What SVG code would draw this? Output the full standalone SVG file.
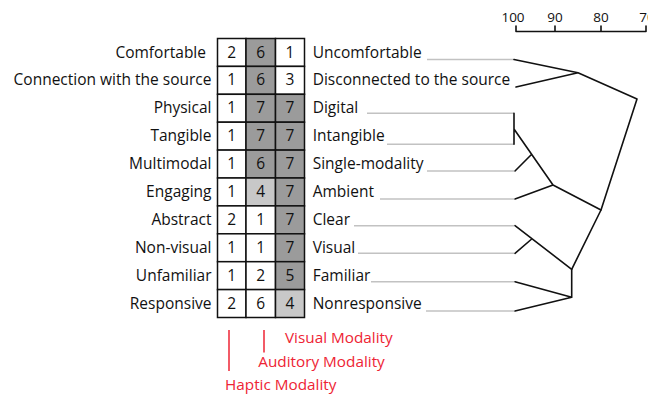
<svg xmlns="http://www.w3.org/2000/svg" width="661" height="398" viewBox="0 0 661 398">
  <style>
    text { font-family: "Open Sans", "Noto Sans", "Liberation Sans", sans-serif; font-size: 15.5px; fill: #111; }
    .l { text-anchor: end; }
    .n { text-anchor: middle; }
    .cell { stroke: #111; stroke-width: 1.5; fill: #fff; }
    .d { fill: #9b9b9b; }
    .m { fill: #c8c8c8; }
    .lead { stroke: #c2c2c2; stroke-width: 1.5; fill: none; }
    .br { stroke: #111; stroke-width: 1.6; fill: none; stroke-linecap: round; stroke-linejoin: round; }
    .sc { font-size: 13.5px; text-anchor: middle; }
    .red { fill: #ee2434; font-size: 15.3px; }
    .redl { stroke: #ee2434; stroke-width: 1.5; }
  </style>
  <defs>
    <clipPath id="frame"><rect x="0" y="0" width="648" height="398"/></clipPath>
  </defs>

  <rect width="661" height="398" fill="#fff"/>

  <!-- similarity scale -->
  <g id="scale">
    <path class="br" d="M516 26 V31.5 H646 V26 M555 31.5 V26 M601 31.5 V26" stroke-linecap="butt"/>
    <text class="sc" x="513" y="22">100</text>
    <text class="sc" x="555" y="22">90</text>
    <text class="sc" x="601" y="22">80</text>
    <text class="sc" x="647" y="22" clip-path="url(#frame)">70</text>
  </g>

  <!-- rating rows: pole label, three modality scores, opposite pole -->
  <g id="row1">
    <text class="l" x="206" y="57.5">Comfortable</text>
    <rect class="cell" x="217.5" y="38.5" width="28.5" height="27.9"/>
    <rect class="cell d" x="246" y="38.5" width="29.5" height="27.9"/>
    <rect class="cell" x="275.5" y="38.5" width="29" height="27.9"/>
    <text class="n" x="231.8" y="57.5">2</text><text class="n" x="260.8" y="57.5">6</text><text class="n" x="290" y="57.5">1</text>
    <text x="312.7" y="57.5">Uncomfortable</text>
  </g>
  <g id="row2">
    <text class="l" x="211.5" y="85.4">Connection with the source</text>
    <rect class="cell" x="217.5" y="66.4" width="28.5" height="27.9"/>
    <rect class="cell d" x="246" y="66.4" width="29.5" height="27.9"/>
    <rect class="cell" x="275.5" y="66.4" width="29" height="27.9"/>
    <text class="n" x="231.8" y="85.4">1</text><text class="n" x="260.8" y="85.4">6</text><text class="n" x="290" y="85.4">3</text>
    <text x="312.7" y="85.4">Disconnected to the source</text>
  </g>
  <g id="row3">
    <text class="l" x="211.5" y="113.3">Physical</text>
    <rect class="cell" x="217.5" y="94.3" width="28.5" height="27.9"/>
    <rect class="cell d" x="246" y="94.3" width="29.5" height="27.9"/>
    <rect class="cell d" x="275.5" y="94.3" width="29" height="27.9"/>
    <text class="n" x="231.8" y="113.3">1</text><text class="n" x="260.8" y="113.3">7</text><text class="n" x="290" y="113.3">7</text>
    <text x="312.7" y="113.3">Digital</text>
  </g>
  <g id="row4">
    <text class="l" x="211.5" y="141.2">Tangible</text>
    <rect class="cell" x="217.5" y="122.2" width="28.5" height="27.9"/>
    <rect class="cell d" x="246" y="122.2" width="29.5" height="27.9"/>
    <rect class="cell d" x="275.5" y="122.2" width="29" height="27.9"/>
    <text class="n" x="231.8" y="141.2">1</text><text class="n" x="260.8" y="141.2">7</text><text class="n" x="290" y="141.2">7</text>
    <text x="312.7" y="141.2">Intangible</text>
  </g>
  <g id="row5">
    <text class="l" x="211.5" y="169.1">Multimodal</text>
    <rect class="cell" x="217.5" y="150.1" width="28.5" height="27.9"/>
    <rect class="cell d" x="246" y="150.1" width="29.5" height="27.9"/>
    <rect class="cell d" x="275.5" y="150.1" width="29" height="27.9"/>
    <text class="n" x="231.8" y="169.1">1</text><text class="n" x="260.8" y="169.1">6</text><text class="n" x="290" y="169.1">7</text>
    <text x="312.7" y="169.1">Single-modality</text>
  </g>
  <g id="row6">
    <text class="l" x="211.5" y="197">Engaging</text>
    <rect class="cell" x="217.5" y="178" width="28.5" height="27.9"/>
    <rect class="cell m" x="246" y="178" width="29.5" height="27.9"/>
    <rect class="cell d" x="275.5" y="178" width="29" height="27.9"/>
    <text class="n" x="231.8" y="197">1</text><text class="n" x="260.8" y="197">4</text><text class="n" x="290" y="197">7</text>
    <text x="312.7" y="197">Ambient</text>
  </g>
  <g id="row7">
    <text class="l" x="211.5" y="224.9">Abstract</text>
    <rect class="cell" x="217.5" y="205.9" width="28.5" height="27.9"/>
    <rect class="cell" x="246" y="205.9" width="29.5" height="27.9"/>
    <rect class="cell d" x="275.5" y="205.9" width="29" height="27.9"/>
    <text class="n" x="231.8" y="224.9">2</text><text class="n" x="260.8" y="224.9">1</text><text class="n" x="290" y="224.9">7</text>
    <text x="312.7" y="224.9">Clear</text>
  </g>
  <g id="row8">
    <text class="l" x="211.5" y="252.8">Non-visual</text>
    <rect class="cell" x="217.5" y="233.8" width="28.5" height="27.9"/>
    <rect class="cell" x="246" y="233.8" width="29.5" height="27.9"/>
    <rect class="cell d" x="275.5" y="233.8" width="29" height="27.9"/>
    <text class="n" x="231.8" y="252.8">1</text><text class="n" x="260.8" y="252.8">1</text><text class="n" x="290" y="252.8">7</text>
    <text x="312.7" y="252.8">Visual</text>
  </g>
  <g id="row9">
    <text class="l" x="211.5" y="280.7">Unfamiliar</text>
    <rect class="cell" x="217.5" y="261.7" width="28.5" height="27.9"/>
    <rect class="cell" x="246" y="261.7" width="29.5" height="27.9"/>
    <rect class="cell d" x="275.5" y="261.7" width="29" height="27.9"/>
    <text class="n" x="231.8" y="280.7">1</text><text class="n" x="260.8" y="280.7">2</text><text class="n" x="290" y="280.7">5</text>
    <text x="312.7" y="280.7">Familiar</text>
  </g>
  <g id="row10">
    <text class="l" x="211.5" y="308.6">Responsive</text>
    <rect class="cell" x="217.5" y="289.6" width="28.5" height="27.9"/>
    <rect class="cell" x="246" y="289.6" width="29.5" height="27.9"/>
    <rect class="cell m" x="275.5" y="289.6" width="29" height="27.9"/>
    <text class="n" x="231.8" y="308.6">2</text><text class="n" x="260.8" y="308.6">6</text><text class="n" x="290" y="308.6">4</text>
    <text x="312.7" y="308.6">Nonresponsive</text>
  </g>

  <!-- dendrogram: grey leaders and black branches -->
  <g id="connectors">
    <path class="lead" d="M427 59.5 H514 M367 113.3 H514 M387 144.3 H514 M427 171 H514 M380 199 H514 M354 225.7 H514 M358 253.3 H514 M371 281.7 H514 M426 311 H514"/>
    <path class="br" d="M514 59.5 L578 72.7 M516 87 L578 72.7 L637 99 L601 210 L571.7 269.3 V297.3 L515 281.7 M515 311 L571.7 297.3"/>
    <path class="br" d="M514 113.3 V144.3 M514 129 L553 185 L601 210 M515 171 L531.7 154.3 M515 199 L553 185"/>
    <path class="br" d="M515 225.7 L571.7 269.3 M515 253.3 L531.7 239"/>
  </g>

  <!-- modality legend -->
  <g id="legend">
    <line class="redl" x1="229" y1="330" x2="229" y2="371"/>
    <line class="redl" x1="264" y1="330" x2="264" y2="352.5"/>
    <text class="red" x="285" y="343.3">Visual Modality</text>
    <text class="red" x="258.3" y="366.7">Auditory Modality</text>
    <text class="red" x="225" y="390">Haptic Modality</text>
  </g>
</svg>
